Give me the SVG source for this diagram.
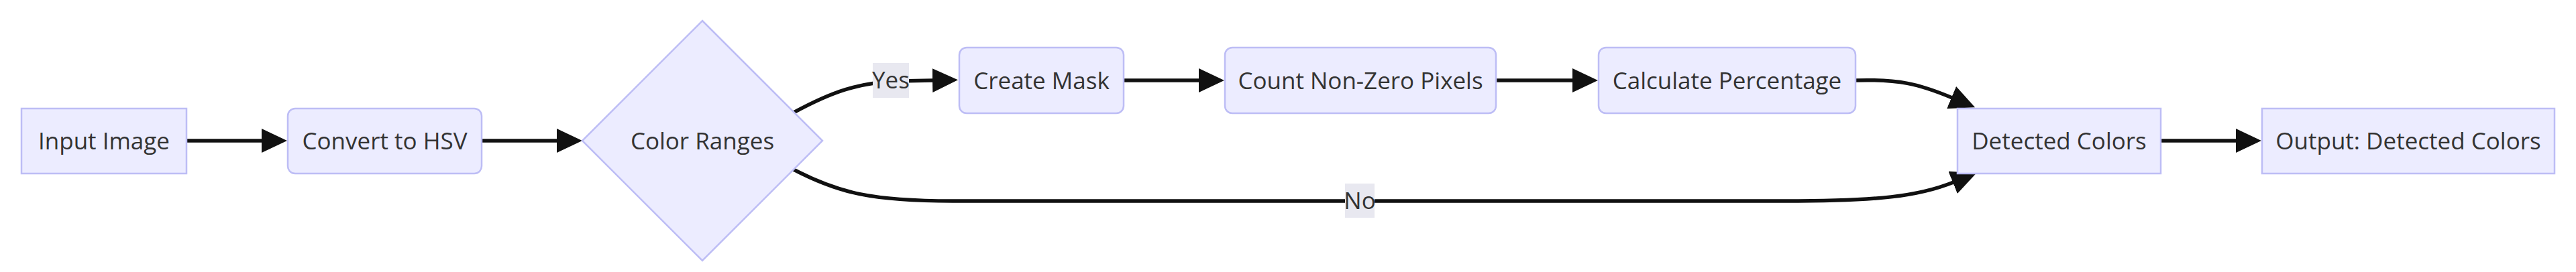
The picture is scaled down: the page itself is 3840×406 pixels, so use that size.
<svg xmlns="http://www.w3.org/2000/svg" width="3840" height="406" viewBox="0 0 3840 406">
<style>
.node rect,.node polygon{fill:#ECECFF;stroke:#BDBDF5;stroke-width:2.5}
.lbl{font-family:"Open Sans","Noto Sans",sans-serif;font-size:35px;fill:#333;text-anchor:middle}
.edge{fill:none;stroke:#111;stroke-width:5.5}
.elbg{fill:#E8E8F0}
</style>
<defs>
<marker id="ah" markerUnits="userSpaceOnUse" markerWidth="38" markerHeight="36" viewBox="0 0 38 36" refX="1" refY="18" orient="auto">
<path d="M0,0 L38,18 L0,36 z" fill="#111"/>
</marker>
</defs>
<rect width="3840" height="406" fill="#fff"/>
<g id="connectors">
<path class="edge" d="M278,210 L391,210" marker-end="url(#ah)"/>
<path class="edge" d="M718,210 L831,210" marker-end="url(#ah)"/>
<path class="edge" d="M1183,168 C1240,137 1280,123 1340,121 L1391,120" marker-end="url(#ah)"/>
<path class="edge" d="M1183,253 C1250,288 1300,300 1420,300 L2660,300 C2800,300 2860,293 2912,272" marker-end="url(#ah)"/>
<path class="edge" d="M1675,120 L1788,120" marker-end="url(#ah)"/>
<path class="edge" d="M2230,120 L2345,120" marker-end="url(#ah)"/>
<path class="edge" d="M2766,120 C2830,118 2860,125 2910,146" marker-end="url(#ah)"/>
<path class="edge" d="M3221,210 L3334,210" marker-end="url(#ah)"/>
<rect class="elbg" x="1301" y="94" width="54" height="52"/>
<text class="lbl" x="1328" y="132">Yes</text>
<rect class="elbg" x="2005" y="274" width="44" height="51"/>
<text class="lbl" x="2027" y="312">No</text>
</g>
<g id="inputImage" class="node">
<rect x="32" y="162" width="246" height="97"/>
<text class="lbl" x="155" y="222.5">Input Image</text>
</g>
<g id="convertHSV" class="node">
<rect x="429" y="162" width="289" height="97" rx="11" ry="11"/>
<text class="lbl" x="573.5" y="222.5">Convert to HSV</text>
</g>
<g id="colorRanges" class="node">
<polygon points="1047,31 1226,210 1047,389 868,210"/>
<text class="lbl" x="1047" y="222.5">Color Ranges</text>
</g>
<g id="createMask" class="node">
<rect x="1430" y="71" width="245" height="98" rx="11" ry="11"/>
<text class="lbl" x="1552.5" y="132.5">Create Mask</text>
</g>
<g id="countPixels" class="node">
<rect x="1826" y="71" width="404" height="98" rx="11" ry="11"/>
<text class="lbl" x="2028" y="132.5">Count Non-Zero Pixels</text>
</g>
<g id="calcPercent" class="node">
<rect x="2383" y="71" width="383" height="98" rx="11" ry="11"/>
<text class="lbl" x="2574.5" y="132.5">Calculate Percentage</text>
</g>
<g id="detectedColors" class="node">
<rect x="2918" y="162" width="303" height="97"/>
<text class="lbl" x="3069.5" y="222.5">Detected Colors</text>
</g>
<g id="outputColors" class="node">
<rect x="3372" y="162" width="436" height="97"/>
<text class="lbl" x="3590" y="222.5">Output: Detected Colors</text>
</g>
</svg>
